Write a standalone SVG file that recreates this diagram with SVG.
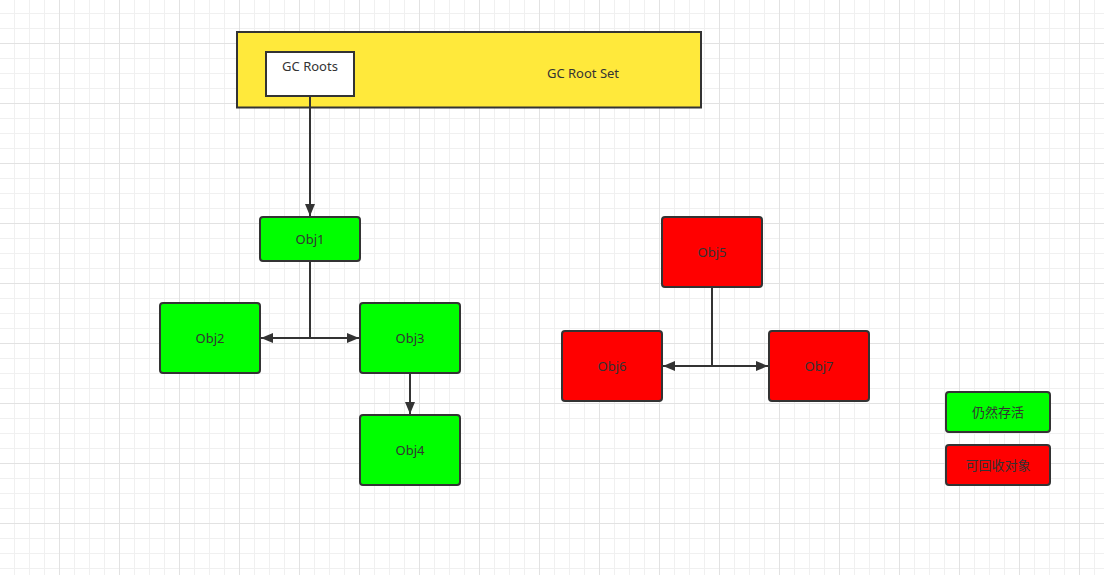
<svg xmlns="http://www.w3.org/2000/svg" width="1104" height="575" viewBox="0 0 1104 575">
<style>
.txt{font-family:"Noto Sans","Noto Sans CJK SC",sans-serif;font-size:13px;fill:#333;text-anchor:middle;dominant-baseline:central}
.obj{stroke:#333;stroke-width:2}
.g{fill:#00ff00}
.r{fill:#ff0000}
.conn{stroke:#333;stroke-width:2;fill:none}
</style>
<defs>
<pattern id="grid" patternUnits="userSpaceOnUse" x="-1" y="-17" width="60" height="60">
<path d="M15.5 0V60M30.5 0V60M45.5 0V60M0 15.5H60M0 30.5H60M0 45.5H60" stroke="#f0f0f0" stroke-width="1"/>
<path d="M0.5 0V60M0 0.5H60" stroke="#e2e2e2" stroke-width="1"/>
</pattern>
<marker id="arr" viewBox="0 0 12 10" refX="12" refY="5" markerWidth="12" markerHeight="10" markerUnits="userSpaceOnUse" orient="auto">
<path d="M0 0L12 5L0 10Z" fill="#333"/>
</marker>
</defs>
<rect width="1104" height="575" fill="#fff"/>
<rect width="1104" height="575" fill="url(#grid)"/>
<g id="rootset">
<rect x="237" y="32" width="464" height="75.5" fill="#ffe93b" stroke="#333" stroke-width="2"/>
<text class="txt" x="583" y="73">GC Root Set</text>
</g>
<g id="gcroots">
<rect x="266" y="52" width="88" height="44" fill="#fff" stroke="#333" stroke-width="2"/>
<text class="txt" x="310" y="66">GC Roots</text>
</g>
<g id="obj1"><rect class="obj g" x="260" y="217" width="100" height="44" rx="3"/><text class="txt" x="310" y="239">Obj1</text></g>
<g id="obj2"><rect class="obj g" x="160" y="303" width="100" height="70" rx="3"/><text class="txt" x="210" y="338">Obj2</text></g>
<g id="obj3"><rect class="obj g" x="360" y="303" width="100" height="70" rx="3"/><text class="txt" x="410" y="338">Obj3</text></g>
<g id="obj4"><rect class="obj g" x="360" y="415" width="100" height="70" rx="3"/><text class="txt" x="410" y="450">Obj4</text></g>
<g id="obj5"><rect class="obj r" x="662" y="217" width="100" height="70" rx="3"/><text class="txt" x="712" y="252">Obj5</text></g>
<g id="obj6"><rect class="obj r" x="562" y="331" width="100" height="70" rx="3"/><text class="txt" x="612" y="366">Obj6</text></g>
<g id="obj7"><rect class="obj r" x="769" y="331" width="100" height="70" rx="3"/><text class="txt" x="819" y="366">Obj7</text></g>
<g id="legend-alive"><rect class="obj g" x="946" y="392" width="104" height="40" rx="3"/><text class="txt" x="998" y="412">仍然存活</text></g>
<g id="legend-dead"><rect class="obj r" x="946" y="445" width="104" height="40" rx="3"/><text class="txt" x="998" y="465">可回收对象</text></g>
<g id="connectors">
<path class="conn" d="M310 96V216" marker-end="url(#arr)"/>
<path class="conn" d="M310 261V338H261" marker-end="url(#arr)"/>
<path class="conn" d="M310 338H359" marker-end="url(#arr)"/>
<path class="conn" d="M410 373V414" marker-end="url(#arr)"/>
<path class="conn" d="M712 287V366H663" marker-end="url(#arr)"/>
<path class="conn" d="M712 366H768" marker-end="url(#arr)"/>
</g>
</svg>
